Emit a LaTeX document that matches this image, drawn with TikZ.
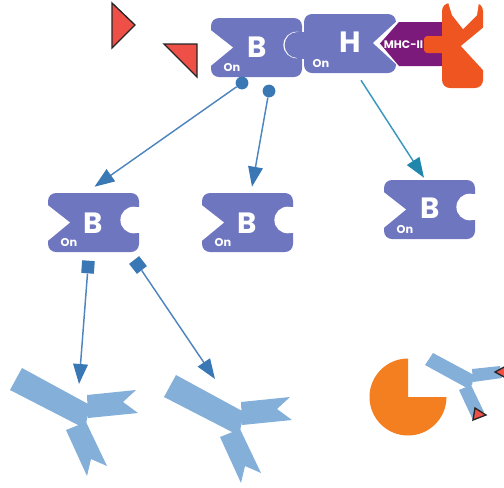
\documentclass[tikz,border=0pt]{standalone}
\usepackage{fontspec}
\setmainfont{Poppins}
\usetikzlibrary{arrows.meta,calc}
\definecolor{cellblue}{HTML}{6F76C0}
\definecolor{mhcpurple}{HTML}{7C1A7C}
\definecolor{tcrorange}{HTML}{EE5520}
\definecolor{abblue}{HTML}{84AFD8}
\definecolor{linkblue}{HTML}{4F86BF}
\definecolor{headblue}{HTML}{3A78B5}
\definecolor{linkteal}{HTML}{3A98BC}
\definecolor{headteal}{HTML}{1F86AC}
\definecolor{antigen}{HTML}{EE5048}
\definecolor{pieorange}{HTML}{F47F20}
\tikzset{
  cellbody/.style={fill=cellblue,rounded corners=6pt},
  bound/.style={inner sep=0pt,minimum width=68.25pt,minimum height=44.25pt},
  bigletter/.style={text=white,font=\bfseries\fontsize{22}{22}\selectfont,inner sep=0pt},
  onlabel/.style={text=white,font=\bfseries\fontsize{8.5}{9}\selectfont,inner sep=0pt},
  link/.style={draw=linkblue,line width=1.1pt,-{Triangle[length=15pt,width=11pt,color=headblue]}},
  tealink/.style={draw=linkteal,line width=1.1pt,-{Triangle[length=15pt,width=11pt,color=headteal]}},
  dot/.style={circle,fill=headblue,inner sep=0pt,minimum size=9.6pt},
  squaremark/.style={rectangle,fill=headblue,inner sep=0pt,minimum size=9.5pt},
  ag/.style={fill=antigen,draw=black!85,line width=1pt,line join=miter},
  abfill/.style={fill=abblue}
}
% B-type cell: rounded block, chevron cut on the left, round socket on the right
\newcommand{\bcell}[2]{%
  \begin{scope}[shift={(#1,#2)}]
    \fill[cellbody] (0,0) rectangle (91,59);
    \fill[white] (-1,11.5) -- (22,29.5) -- (-1,48.5) -- cycle;
    \fill[white] (85.7,27) circle[radius=13.3];
    \fill[white] (86,14) rectangle (92,40);
  \end{scope}
}
% Y-shaped antibody: trunk plus two notched arms
\newcommand{\antibody}[2]{%
  \begin{scope}[shift={(#1,#2)}]
    \fill[abfill] (22,368) -- (90,405) -- (86,424) -- (80,426) -- (10,390) -- cycle;
    \fill[abfill] (87,395) -- (136,390) -- (123,402) -- (138,413) -- (88,418) -- cycle;
    \fill[abfill] (66,430) -- (86,422) -- (107,466) -- (91,459) -- (87,476) -- cycle;
  \end{scope}
}
\begin{document}
\begin{tikzpicture}[x=0.75pt,y=-0.75pt]
  \useasboundingbox (0,0) rectangle (504,487);

  % free-floating antigen triangles
  \draw[ag] (112,3) -- (135,25) -- (112,48) -- cycle;
  \draw[ag] (164,44) -- (197,44) -- (197,77) -- cycle;

  % H cell with right-hand chevron cut
  \fill[cellbody] (304,14) rectangle (396,73);
  \fill[white] (397,21) -- (373,43) -- (397,65) -- cycle;

  % MHC-II receptor and its orange partner
  \fill[mhcpurple] (380,43.5) -- (399,22) -- (445,22) -- (445,66) -- (399,66) -- cycle;
  \fill[tcrorange,rounded corners=6pt] (442,3) rectangle (483,88);
  \fill[white] (448,2) -- (452,15) -- (463,29) -- (477,15) -- (479,2) -- cycle;
  \fill[white] (484,27) -- (461,46) -- (484,71) -- cycle;
  \fill[tcrorange,rounded corners=2.5pt] (424,36) rectangle (446,53);
  \node[text=white,font=\bfseries\fontsize{8.2}{9}\selectfont,inner sep=0pt] (mhc) at (403.5,44.5) {MHC-II};

  % B cell of the pair, with the knob of the H cell seated in its socket
  \bcell{211}{18}
  \fill[cellblue] (297.6,45) circle[radius=13];
  \fill[cellblue] (297,32.2) rectangle (308,59);

  % invisible bounds of the cells, used as connector anchors
  \node[bound] (topB) at (256,47.5) {};
  \node[bound] (topH) at (350,43.5) {};
  \node[bigletter] (lblB) at (257,47) {B};
  \node[bigletter] (lblH) at (350,42) {H};
  \node[onlabel] (onB) at (232,67) {On};
  \node[onlabel] (onH) at (321,63) {On};

  \bcell{48}{193}
  \bcell{202}{193}
  \bcell{384}{180}
  \node[bound] (cellA) at (93.5,222.5) {};
  \node[bound] (cellD) at (247.5,222.5) {};
  \node[bound] (cellC) at (429.5,209.5) {};
  \node[bigletter] at (93,223) (lblA) {B};
  \node[bigletter] at (247,223) (lblD) {B};
  \node[bigletter] at (430,208) (lblC) {B};
  \node[onlabel] at (69,242) (onA) {On};
  \node[onlabel] at (223,242) (onD) {On};
  \node[onlabel] at (405,229) (onC) {On};

  % phospho-site markers
  \node[dot] (siteA) at (242,83) {};
  \node[dot] (siteB) at (269,91) {};
  \node[squaremark,rotate=-4] (siteC) at (88,267) {};
  \node[squaremark,rotate=38] (siteD) at (138,265) {};

  % antibodies
  \antibody{0}{0}
  \antibody{154}{7}
  \coordinate (abA) at (79,384);
  \coordinate (abB) at (215,379);

  % signalling arrows
  \draw[link] (siteA) -- ($(cellA.north)+(1,-6)$);
  \draw[link] (siteB) -- ($(cellD.north)+(4.5,-6)$);
  \draw[tealink] ($(topH.south)+(11,7)$) -- ($(cellC.north)+(-5.5,-2)$);
  \draw[link] (siteC) -- (abA);
  \draw[link] (siteD) -- (abB);

  % secreted factor and bound antibody
  \fill[pieorange] (408,397) -- (408,358.5) arc[start angle=-90,end angle=-360,radius=38.5] -- cycle;
  \fill[abfill] (433,353) -- (474,375) -- (472,385) -- (467,388) -- (425,365) -- cycle;
  \fill[abfill] (472,369) -- (500,366) -- (502,378) -- (473,382) -- cycle;
  \fill[abfill] (459,390) -- (471,385) -- (484,412) -- (473,420) -- cycle;
  \draw[ag] (475,408) -- (486,415) -- (473,420) -- cycle;
  \draw[ag] (495,372) -- (506,366) -- (506,378) -- cycle;
\end{tikzpicture}
\end{document}
